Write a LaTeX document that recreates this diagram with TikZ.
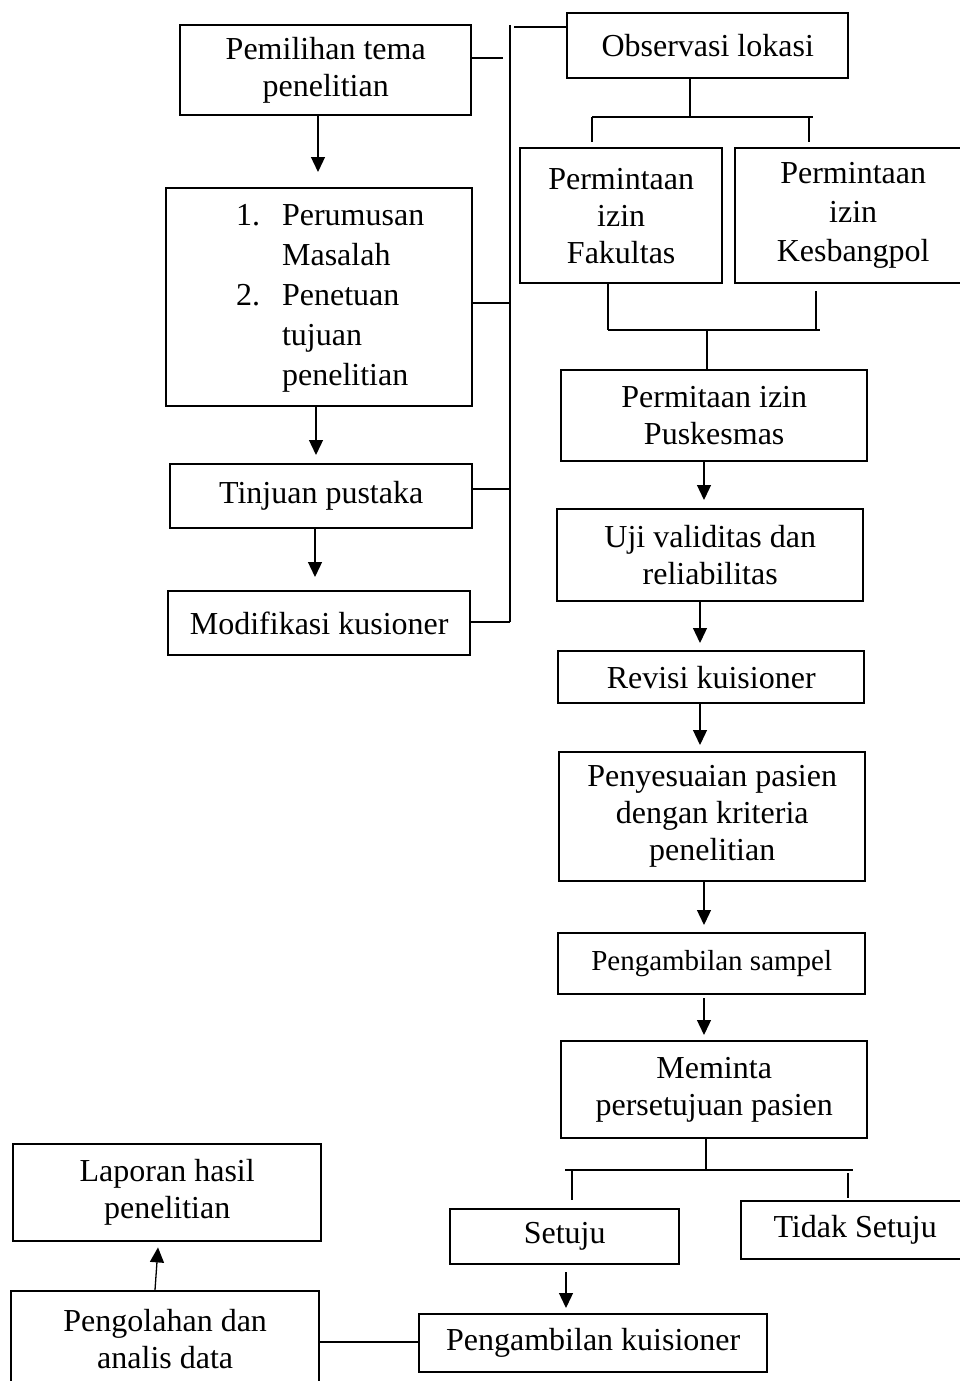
\documentclass[tikz,border=0pt]{standalone}
\usepackage{fontspec}
\setmainfont{Liberation Serif}
\usetikzlibrary{arrows.meta}
\begin{document}
\begin{tikzpicture}[x=1pt,y=-1pt,
  box/.style={draw, line width=2.4pt, align=center, inner sep=0pt, anchor=north west,
              font=\fontsize{32}{37}\selectfont},
  conn/.style={line width=1.3pt},
  arr/.style={line width=1.3pt, -{Triangle[length=15pt,width=14pt]}}]
\useasboundingbox (0,0) rectangle (959,1381);
% left column
\node[box, minimum width=291pt, minimum height=90pt] (n1) at (179,24) {Pemilihan tema\\penelitian};
\node[box, minimum width=306pt, minimum height=218pt, font=\fontsize{32}{40}\selectfont] (n2) at (165,187)
  {\hspace*{22pt}\begin{tabular}{@{}l@{\hspace{22pt}}l@{}}1. & Perumusan\\ & Masalah\\ 2. & Penetuan\\ & tujuan\\ & penelitian\end{tabular}};
\node[box, minimum width=302pt, minimum height=64pt] (n3) at (169,463) {Tinjuan pustaka};
\node[box, minimum width=302pt, minimum height=64pt] (n4) at (167,590) {Modifikasi kusioner};
% right column
\node[box, minimum width=281pt, minimum height=65pt] (obs) at (566,12) {Observasi lokasi};
\node[box, minimum width=202pt, minimum height=135pt] (fak) at (519,147) {Permintaan\\izin\\Fakultas};
\node[box, minimum width=236pt, minimum height=135pt, font=\fontsize{32}{39}\selectfont] (kes) at (734,147) {Permintaan\\izin\\Kesbangpol};
\node[box, minimum width=306pt, minimum height=91pt] (pus) at (560,369) {Permitaan izin\\Puskesmas};
\node[box, minimum width=306pt, minimum height=92pt] (uji) at (556,508) {Uji validitas dan\\reliabilitas};
\node[box, minimum width=306pt, minimum height=52pt] (rev) at (557,650) {Revisi kuisioner};
\node[box, minimum width=306pt, minimum height=129pt] (pen) at (558,751) {Penyesuaian pasien\\dengan kriteria\\penelitian};
\node[box, minimum width=307pt, minimum height=61pt, font=\fontsize{29}{34}\selectfont] (samp) at (557,932) {Pengambilan sampel};
\node[box, minimum width=306pt, minimum height=97pt] (mem) at (560,1040) {Meminta\\persetujuan pasien};
\node[box, minimum width=229pt, minimum height=55pt] (set) at (449,1208) {Setuju};
\node[box, minimum width=228pt, minimum height=58pt] (tid) at (740,1200) {Tidak Setuju};
\node[box, minimum width=348pt, minimum height=58pt] (kuis) at (418,1313) {Pengambilan kuisioner};
\node[box, minimum width=308pt, minimum height=95pt] (olah) at (10,1290) {Pengolahan dan\\analis data};
\node[box, minimum width=308pt, minimum height=97pt] (lap) at (12,1143) {Laporan hasil\\penelitian};
% left arrows
\draw[arr] (318,0 |- n1.south) -- ([yshift=15pt]318,0 |- n2.north);
\draw[arr] (316,0 |- n2.south) -- ([yshift=8pt]316,0 |- n3.north);
\draw[arr] (315,0 |- n3.south) -- ([yshift=13pt]315,0 |- n4.north);
% bracket
\coordinate (bt) at (510,25);
\coordinate (bb) at (510,622);
\draw[conn] (bt) -- (bb);
\draw[conn] (n1.east |- 0,58) -- (503,58);
\draw[conn] (n2.east |- 0,303) -- (bt |- 0,303);
\draw[conn] (n3.east |- 0,489) -- (bt |- 0,489);
\draw[conn] (n4.east |- 0,622) -- (bb);
\draw[conn] (514,27) -- (obs.west |- 0,27);
% observasi fork
\coordinate (f1) at (690,117);
\draw[conn] (obs.south -| f1) -- (f1);
\draw[conn] (592,117) -- (813,117);
\draw[conn] (592,117) -- ([yshift=5pt]592,0 |- fak.north);
\draw[conn] (809,117) -- ([yshift=5pt]809,0 |- kes.north);
% join to puskesmas
\coordinate (f2) at (707,330);
\draw[conn] (608,0 |- fak.south) -- (608,330);
\draw[conn] ([yshift=-7pt]816,0 |- kes.south) -- (816,330);
\draw[conn] (608,330) -- (820,330);
\draw[conn] (f2) -- (f2 |- pus.north);
% right arrows
\draw[arr] (704,0 |- pus.south) -- ([yshift=8pt]704,0 |- uji.north);
\draw[arr] (700,0 |- uji.south) -- ([yshift=7pt]700,0 |- rev.north);
\draw[arr] (700,0 |- rev.south) -- ([yshift=6pt]700,0 |- pen.north);
\draw[arr] (704,0 |- pen.south) -- ([yshift=7pt]704,0 |- samp.north);
\draw[arr] ([yshift=-3pt]704,0 |- samp.south) -- ([yshift=5pt]704,0 |- mem.north);
% meminta fork
\coordinate (f3) at (706,1170);
\draw[conn] (mem.south -| f3) -- (f3);
\draw[conn] (565,1170) -- (853,1170);
\draw[conn] (572,1170) -- (572,1200);
\draw[conn] (848,1173) -- (848,1198);
% bottom
\draw[arr] ([yshift=-7pt]566,0 |- set.south) -- ([yshift=5pt]566,0 |- kuis.north);
\draw[conn] (olah.east |- 0,1342) -- (kuis.west |- 0,1342);
\draw[arr] (155,0 |- olah.north) -- ([yshift=-5pt]158,0 |- lap.south);
\end{tikzpicture}
\end{document}
